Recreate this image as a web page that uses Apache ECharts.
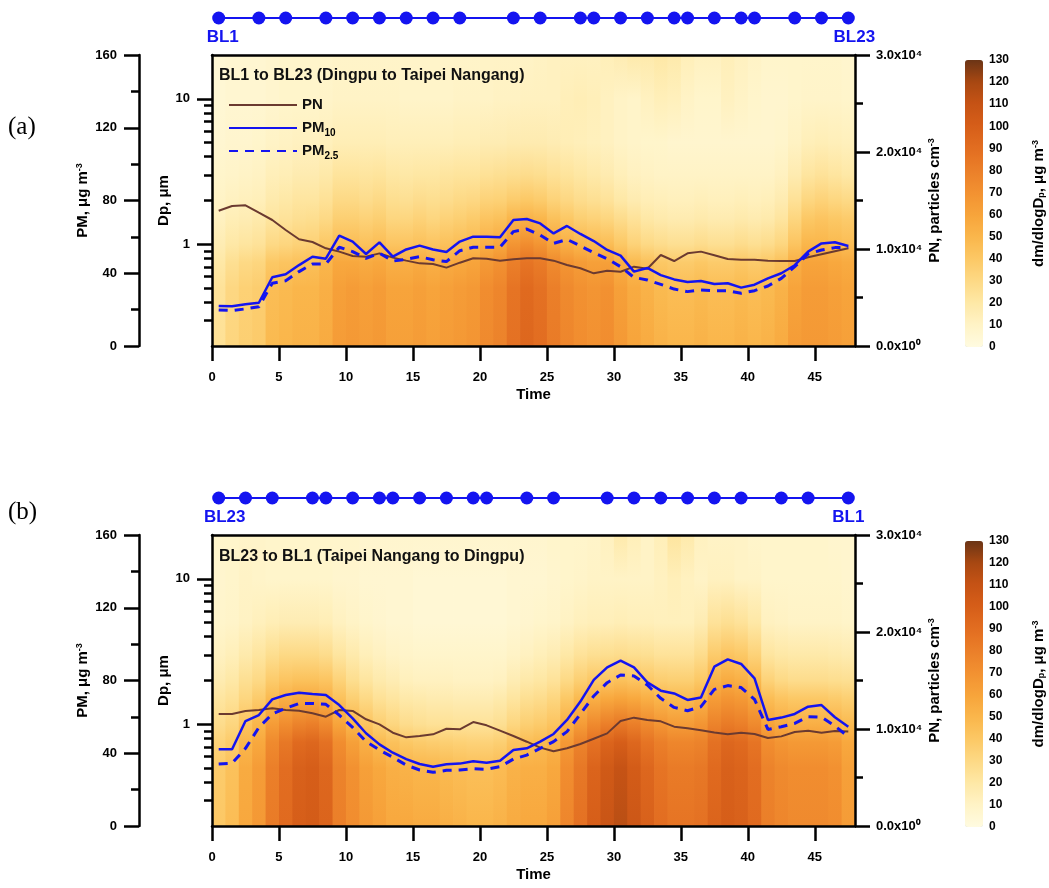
<!DOCTYPE html>
<html>
<head>
<meta charset="utf-8">
<title>BL line: PM, PN and dm/dlogDp</title>
<script src="https://cdn.jsdelivr.net/npm/echarts@6.0.0/dist/echarts.min.js"></script>
<style>
  html, body { margin: 0; padding: 0; background: #fff; }
  #main { width: 1049px; height: 888px; }
</style>
</head>
<body>
<div id="main"></div>
<script>
// ---------- data ----------
// time of each sample (half-hour bins)
const times = [0.5,1.5,2.5,3.5,4.5,5.5,6.5,7.5,8.5,9.5,10.5,11.5,12.5,13.5,14.5,15.5,16.5,17.5,18.5,19.5,
  20.5,21.5,22.5,23.5,24.5,25.5,26.5,27.5,28.5,29.5,30.5,31.5,32.5,33.5,34.5,35.5,36.5,37.5,38.5,39.5,
  40.5,41.5,42.5,43.5,44.5,45.5,46.5,47.5];

// station passing times (BL1 -> BL23 and BL23 -> BL1)
const stationsA = [0.5,3.5,5.5,8.5,10.5,12.5,14.5,16.5,18.5,22.5,24.5,27.5,28.5,30.5,32.5,34.5,35.5,37.5,39.5,40.5,43.5,45.5,47.5];
const stationsB = [0.5,2.5,4.5,7.5,8.5,10.5,12.5,13.5,15.5,17.5,19.5,20.5,23.5,25.5,29.5,31.5,33.5,35.5,37.5,39.5,42.5,44.5,47.5];

// (a) BL1 to BL23
const pnA = [13950,14430,14500,13740,12990,11960,11000,10720,10070,9730,9280,9210,9550,9110,8800,8520,8450,8080,8590,9040,
  9000,8800,8940,9040,9040,8800,8350,8010,7490,7760,7660,8180,7970,9380,8760,9550,9730,9350,8970,8900,
  8900,8800,8770,8770,9140,9450,9760,10070];
const pm10A = [22.0,21.8,22.9,23.8,37.8,39.4,44.5,49.1,48.0,60.7,57.4,50.6,57.0,49.1,53.1,55.2,53.1,51.7,57.4,60.1,
  60.1,59.8,69.3,69.8,67.4,61.9,66.0,61.6,57.7,52.8,49.7,40.9,42.9,39.0,36.6,35.2,35.7,34.1,34.5,32.1,
  33.7,37.2,40.0,44.4,51.9,56.4,57.0,55.0];
const pm25A = [19.8,19.5,20.4,21.6,34.5,35.9,40.9,45.1,45.1,54.3,51.9,48.2,51.0,46.7,47.7,49.1,47.4,46.4,52.4,54.3,
  54.3,54.3,62.9,64.3,61.0,56.4,58.6,55.0,51.3,48.0,43.6,37.7,36.3,33.9,31.3,29.9,30.8,30.4,30.4,29.0,
  30.4,33.0,37.2,43.6,50.6,52.8,54.1,54.3];

// (b) BL23 to BL1
const pnB = [11550,11550,11860,11960,12130,11960,11890,11620,11270,11960,11860,11000,10480,9620,9140,9280,9450,10030,9970,10720,
  10380,9830,9280,8690,8080,7700,8010,8450,9000,9550,10830,11170,10930,10790,10240,10070,9860,9650,9450,9620,
  9480,9070,9240,9690,9830,9620,9800,9730];
const pm10B = [42.2,42.2,57.7,61.0,69.6,72.0,73.3,72.6,72.0,66.5,59.2,51.0,44.9,40.3,36.8,34.1,32.6,33.9,34.3,35.6,
  34.8,35.9,41.8,42.7,46.4,50.6,58.3,68.4,80.3,87.2,90.9,87.2,79.0,74.4,72.9,69.3,70.7,87.6,91.6,89.1,
  81.2,58.3,59.6,61.6,65.6,66.5,59.8,54.6];
const pm25B = [34.1,34.5,42.7,54.2,61.6,64.7,67.4,67.4,66.9,61.0,54.2,46.4,41.8,37.8,33.5,30.8,29.5,30.6,30.8,31.5,
  31.2,32.6,36.8,39.0,42.7,46.4,51.9,61.6,71.5,78.8,83.0,82.5,77.5,70.2,65.2,63.4,65.6,75.1,77.2,76.1,
  69.6,53.1,54.6,56.4,60.1,59.8,55.0,49.1];

// dm/dlogDp (ug m-3) per time column (0-1, 1-2, ... 47-48) at these Dp levels (um)
const dpLevels = [0.2, 0.5, 0.75, 1, 1.5, 2, 3, 5, 10, 20];

const a020 = [25,32,36,38,48,50,52,52,56,64,66,64,66,62,62,64,62,64,66,68,74,78,88,94,90,82,76,72,70,72,66,60,56,52,50,50,52,50,50,52,50,52,56,64,66,66,64,62];
const a050 = [24,31,35,37,46,48,50,50,54,62,64,62,64,60,60,62,60,62,64,66,72,76,86,92,88,80,74,70,68,70,62,56,52,48,46,46,48,46,46,48,46,48,52,60,64,64,62,60];
const a075 = [20,26,30,32,40,42,44,45,50,58,58,56,58,54,54,56,54,56,58,60,66,70,80,86,82,74,68,64,62,62,54,48,44,40,38,38,40,38,38,40,38,40,44,54,60,60,58,56];
const a100 = [16,20,22,24,30,32,34,35,40,46,46,44,46,42,42,44,42,44,46,48,54,58,68,72,68,60,54,50,48,46,40,34,30,28,26,26,28,26,26,28,26,28,32,42,50,50,48,46];
const a150 = [12,15,16,18,22,24,26,27,30,36,36,34,36,32,32,34,32,34,36,38,42,44,50,52,50,44,40,36,34,32,28,24,20,18,17,17,18,17,17,18,17,18,22,32,40,42,40,38];
const a200 = [10,12,13,14,18,20,22,22,25,30,30,28,30,27,26,28,27,28,30,31,34,35,38,40,38,34,31,28,26,24,20,17,15,14,13,13,14,13,13,14,13,14,17,25,32,34,32,30];
const a300 = [8,9,10,11,14,15,17,17,19,23,23,22,23,21,20,21,21,22,23,23,25,26,27,28,27,25,23,21,19,17,14,12,11,10,10,10,10,10,10,10,10,10,12,17,22,24,22,20];
const a500 = [6,7,7,8,10,11,12,12,13,15,15,15,15,14,14,14,14,14,15,15,16,16,17,17,17,16,15,14,13,12,10,9,8,8,7,7,7,7,7,7,7,7,8,11,14,15,14,13];
const a1000 = [5,6,6,6,7,8,8,8,9,10,10,10,10,10,9,9,9,9,10,10,10,11,11,12,12,12,14,15,14,12,10,9,12,14,13,10,8,8,12,10,8,7,7,8,9,9,9,8];
const a2000 = [5,6,6,6,7,8,8,8,8,9,9,9,9,9,9,9,9,9,9,9,10,10,10,10,11,12,12,12,12,14,16,18,18,20,18,14,12,12,14,12,10,8,8,8,8,8,8,7];

const b020 = [40,46,58,66,82,92,100,102,96,80,72,66,62,58,58,56,56,54,52,50,50,52,56,58,58,62,76,88,100,108,114,106,98,90,86,86,88,96,100,98,92,80,76,74,74,74,72,64];
const b050 = [38,44,56,64,80,90,98,100,94,78,70,62,58,54,52,50,50,48,46,45,45,47,52,54,54,58,72,84,96,104,110,102,94,86,82,82,84,92,98,96,90,78,74,72,72,72,70,62];
const b075 = [34,38,50,58,74,84,92,94,88,72,62,54,48,44,40,38,37,36,35,34,34,36,42,46,48,52,66,78,88,96,100,94,86,80,76,76,78,88,94,92,86,72,68,66,66,66,64,58];
const b100 = [28,32,42,50,64,72,78,80,74,60,50,42,36,32,28,26,25,25,24,24,24,26,32,36,38,42,54,64,74,80,84,80,74,68,64,64,68,78,82,80,74,60,56,54,54,54,52,48];
const b150 = [22,25,32,38,48,54,58,58,54,44,36,30,25,22,19,18,17,17,16,16,16,18,22,26,28,32,40,48,54,58,60,58,54,50,48,48,52,64,68,66,60,46,42,40,40,40,38,36];
const b200 = [17,20,26,30,38,42,44,44,42,34,27,22,18,16,13,12,12,12,11,11,11,12,16,19,21,24,30,36,40,42,44,42,40,37,36,36,40,52,56,54,48,34,30,28,28,28,27,26];
const b300 = [12,14,18,22,27,30,30,30,28,22,18,14,12,10,9,8,8,8,8,8,8,8,10,12,14,16,20,24,26,27,28,27,26,24,24,24,28,38,42,40,34,22,20,19,19,19,18,17];
const b500 = [8,9,11,13,15,16,16,16,15,12,10,8,7,6,6,5,5,5,5,5,5,5,6,7,8,9,11,13,14,14,15,14,14,13,13,13,16,24,26,24,20,12,11,10,10,10,10,9];
const b1000 = [7,8,10,9,8,8,8,8,8,7,7,6,6,6,6,5,5,5,5,5,5,5,6,6,6,7,8,9,10,10,10,10,10,12,14,12,10,12,12,10,10,8,8,8,8,8,8,7];
const b2000 = [8,8,9,9,8,8,8,8,8,8,8,7,7,7,7,7,7,7,7,7,7,7,7,7,7,8,8,8,9,12,18,14,10,14,22,18,12,10,10,10,8,8,8,8,8,8,7,7];

// tick labels
const timeTicks = [0, 5, 10, 15, 20, 25, 30, 35, 40, 45];
const dpMajor = [1, 10];
const dpMinor = [0.3, 0.4, 0.5, 0.6, 0.7, 0.8, 0.9, 2, 3, 4, 5, 6, 7, 8, 9];

// colour scale 0..130 (step 10)
const cbColors = ['#fffbe1', '#fff3c6', '#fee8a6', '#fdd985', '#fcc865', '#fab64b', '#f7a43b',
  '#f29131', '#eb7f29', '#e26d21', '#d65e19', '#c65315', '#a84812', '#6b3516'];

// ---------- chart ----------
const FONT = '"Liberation Sans", Arial, Helvetica, sans-serif';
const BLUE = '#1414f0';
const BROWN = '#6b3a30';
const LINE = { color: '#000', width: 2.5 };
const LBL = { color: '#000', fontFamily: FONT, fontWeight: 'bold', fontSize: 13 };
const NAME = { color: '#000', fontFamily: FONT, fontWeight: 'bold', fontSize: 15,
  rich: {
    sup: { fontFamily: FONT, fontWeight: 'bold', fontSize: 9, verticalAlign: 'top', lineHeight: 9, color: '#000' },
    sub: { fontFamily: FONT, fontWeight: 'bold', fontSize: 9, verticalAlign: 'bottom', lineHeight: 9, color: '#000' }
  } };

function colorAt(v) {
  return echarts.color.lerp(Math.max(0, Math.min(1, v / 130)), cbColors);
}

function renderColumn(params, api) {
  const t = api.value(0);
  const tl = api.coord([t - 0.5, 20]);
  const br = api.coord([t + 0.5, 0.2]);
  const h = br[1] - tl[1];
  const stops = [];
  for (let k = dpLevels.length - 1; k >= 0; k--) {
    const y = api.coord([t, dpLevels[k]])[1];
    stops.push({ offset: Math.max(0, Math.min(1, (y - tl[1]) / h)), color: colorAt(api.value(k + 1)) });
  }
  return {
    type: 'rect',
    shape: { x: tl[0], y: tl[1], width: br[0] - tl[0] + 0.8, height: h },
    style: { fill: new echarts.graphic.LinearGradient(0, 0, 0, 1, stops) }
  };
}

function pairs(ys) {
  return times.map((t, i) => [t, ys[i]]);
}

const grid = [], xAxis = [], yAxis = [], series = [], visualMap = [];

function addPanel(top, cbTop, cbH, levels, pn, pm10, pm25, stations, firstLbl, lastLbl, firstOff, lastOff) {
  const g = grid.length, xi = xAxis.length, yi = yAxis.length, si = series.length;
  grid.push({ left: 212, top: top, width: 643, height: 291, outerBoundsMode: 'none' });
  grid.push({ left: 212, top: top - 47, width: 643, height: 20, outerBoundsMode: 'none' });
  grid.push({ left: 965, top: cbTop, width: 18, height: cbH, outerBoundsMode: 'none' });

  xAxis.push({
    type: 'value', gridIndex: g, min: 0, max: 48, position: 'bottom', z: 10,
    axisLine: { show: true, onZero: false, lineStyle: LINE },
    axisTick: { show: true, length: 15, customValues: timeTicks, lineStyle: LINE },
    axisLabel: Object.assign({ customValues: timeTicks, margin: 25 }, LBL),
    splitLine: { show: false },
    name: 'Time', nameLocation: 'middle', nameGap: 41, nameMoveOverlap: false, nameTextStyle: NAME
  });
  xAxis.push({
    type: 'value', gridIndex: g, min: 0, max: 48, position: 'top', z: 10,
    axisLine: { show: true, onZero: false, lineStyle: LINE },
    axisTick: { show: false }, axisLabel: { show: false }, splitLine: { show: false }
  });
  xAxis.push({ type: 'value', gridIndex: g + 1, min: 0, max: 48, show: false });
  xAxis.push({ type: 'value', gridIndex: g + 2, min: 0, max: 1, show: false });

  // yi: PM
  yAxis.push({
    type: 'value', gridIndex: g, min: 0, max: 160, interval: 40, position: 'left', offset: 73, z: 10,
    axisLine: { show: true, onZero: false, lineStyle: LINE },
    axisTick: { show: true, length: 15, lineStyle: LINE },
    minorTick: { show: true, splitNumber: 2, length: 8, lineStyle: LINE },
    axisLabel: Object.assign({ margin: 22 }, LBL),
    splitLine: { show: false }, minorSplitLine: { show: false },
    name: 'PM, \u03bcg m{sup|-3}', nameLocation: 'middle', nameRotate: 90, nameGap: 49, nameMoveOverlap: false, nameTextStyle: NAME
  });
  // yi+1: Dp (log) major
  yAxis.push({
    type: 'log', logBase: 10, gridIndex: g, min: 0.2, max: 20, position: 'left', z: 10,
    axisLine: { show: true, onZero: false, lineStyle: LINE },
    axisTick: { show: true, length: 15, customValues: dpMajor, lineStyle: LINE },
    axisLabel: Object.assign({ customValues: dpMajor, margin: 22, formatter: v => String(v) }, LBL),
    splitLine: { show: false },
    name: 'Dp, \u03bcm', nameLocation: 'middle', nameRotate: 90, nameGap: 41, nameMoveOverlap: false, nameTextStyle: NAME
  });
  // yi+2: Dp minor ticks
  yAxis.push({
    type: 'log', logBase: 10, gridIndex: g, min: 0.2, max: 20, position: 'left', z: 10,
    axisLine: { show: false },
    axisTick: { show: true, length: 8, customValues: dpMinor, lineStyle: LINE },
    axisLabel: { show: false }, splitLine: { show: false }
  });
  // yi+3: PN
  yAxis.push({
    type: 'value', gridIndex: g, min: 0, max: 30000, interval: 10000, position: 'right', z: 10,
    axisLine: { show: true, onZero: false, lineStyle: LINE },
    axisTick: { show: true, length: 15, lineStyle: LINE },
    minorTick: { show: true, splitNumber: 2, length: 8, lineStyle: LINE },
    axisLabel: Object.assign({ margin: 21, formatter: v => (v / 10000).toFixed(1) + 'x10' + (v === 0 ? '\u2070' : '\u2074') }, LBL),
    splitLine: { show: false }, minorSplitLine: { show: false },
    name: 'PN, particles cm{sup|-3}', nameLocation: 'middle', nameRotate: 90, nameGap: 72, nameMoveOverlap: false, nameTextStyle: NAME
  });
  // yi+4: station strip
  yAxis.push({ type: 'value', gridIndex: g + 1, min: -1, max: 1, show: false });
  // yi+5: colour bar labels
  yAxis.push({
    type: 'value', gridIndex: g + 2, min: 0, max: 130, interval: 10, position: 'right',
    axisLine: { show: false }, axisTick: { show: false }, splitLine: { show: false },
    axisLabel: Object.assign({}, LBL, { margin: 6, fontSize: 12 }),
    name: 'dm/dlogD{sub|p}, \u03bcg m{sup|-3}', nameLocation: 'middle', nameRotate: 90, nameGap: 48, nameMoveOverlap: false, nameTextStyle: NAME
  });

  const cols = times.map((t, i) => [t].concat(levels.map(row => row[i])));
  series.push({
    type: 'custom', coordinateSystem: 'cartesian2d', xAxisIndex: xi, yAxisIndex: yi + 1,
    renderItem: renderColumn, data: cols, encode: { x: 0, y: 1 }, clip: true, silent: true, z: 1
  });
  series.push({
    type: 'line', name: 'PN', xAxisIndex: xi, yAxisIndex: yi + 3, data: pairs(pn), symbol: 'none', z: 3,
    lineStyle: { color: BROWN, width: 2 }, itemStyle: { color: BROWN }
  });
  series.push({
    type: 'line', name: 'PM10', xAxisIndex: xi, yAxisIndex: yi, data: pairs(pm10), symbol: 'none', z: 3,
    lineStyle: { color: BLUE, width: 2.5 }, itemStyle: { color: BLUE }
  });
  series.push({
    type: 'line', name: 'PM2.5', xAxisIndex: xi, yAxisIndex: yi, data: pairs(pm25), symbol: 'none', z: 3,
    lineStyle: { color: BLUE, width: 3, type: [9, 7] }, itemStyle: { color: BLUE }
  });
  const stLabel = (txt, off) => ({ show: true, position: 'bottom', distance: 4, offset: off, formatter: txt,
    color: BLUE, fontFamily: FONT, fontWeight: 'bold', fontSize: 17 });
  series.push({
    type: 'line', name: 'stations', xAxisIndex: xi + 2, yAxisIndex: yi + 4, symbol: 'circle', symbolSize: 13,
    lineStyle: { color: BLUE, width: 2 }, itemStyle: { color: BLUE }, z: 3,
    data: stations.map((t, i) => {
      const item = { value: [t, 0] };
      if (i === 0) item.label = stLabel(firstLbl, firstOff);
      if (i === stations.length - 1) item.label = stLabel(lastLbl, lastOff);
      return item;
    })
  });

  visualMap.push({
    type: 'continuous', min: 0, max: 130, seriesIndex: si, dimension: 1,
    left: 965, top: cbTop, itemWidth: 18, itemHeight: cbH, padding: 0,
    calculable: false, hoverLink: false, text: null,
    inRange: { color: cbColors }
  });
}

addPanel(55, 60, 287, [a020, a050, a075, a100, a150, a200, a300, a500, a1000, a2000],
  pnA, pm10A, pm25A, stationsA, 'BL1', 'BL23', [4, 0], [6, 0]);
addPanel(535, 541, 286, [b020, b050, b075, b100, b150, b200, b300, b500, b1000, b2000],
  pnB, pm10B, pm25B, stationsB, 'BL23', 'BL1', [6, 0], [0, 0]);

const subRich = { fontFamily: FONT, fontWeight: 'bold', fontSize: 10, verticalAlign: 'bottom', lineHeight: 10, color: '#000' };
const noSymbol = { opacity: 0 };

const option = {
  animation: false,
  backgroundColor: '#fff',
  title: [
    { text: 'BL1 to BL23 (Dingpu to Taipei Nangang)', left: 219, top: 68, padding: 0,
      textStyle: { fontFamily: FONT, fontSize: 16, fontWeight: 'bold', color: '#111' } },
    { text: 'BL23 to BL1 (Taipei Nangang to Dingpu)', left: 219, top: 549, padding: 0,
      textStyle: { fontFamily: FONT, fontSize: 16, fontWeight: 'bold', color: '#111' } },
    { text: '(a)', left: 8, top: 115, padding: 0,
      textStyle: { fontFamily: '"Liberation Serif", "Times New Roman", serif', fontSize: 25, fontWeight: 'normal', color: '#000' } },
    { text: '(b)', left: 8, top: 500, padding: 0,
      textStyle: { fontFamily: '"Liberation Serif", "Times New Roman", serif', fontSize: 25, fontWeight: 'normal', color: '#000' } }
  ],
  legend: {
    data: [
      { name: 'PN', itemStyle: noSymbol },
      { name: 'PM10', itemStyle: noSymbol },
      { name: 'PM2.5', itemStyle: noSymbol }
    ],
    orient: 'vertical', left: 228, top: 95, padding: 0,
    itemWidth: 68, itemHeight: 14, itemGap: 3, selectedMode: false,
    formatter: name => name === 'PM10' ? 'PM{sub|10}' : name === 'PM2.5' ? 'PM{sub|2.5}' : name,
    textStyle: { fontFamily: FONT, fontSize: 15, fontWeight: 'bold', color: '#111', lineHeight: 20, rich: { sub: subRich } }
  },
  grid: grid,
  xAxis: xAxis,
  yAxis: yAxis,
  visualMap: visualMap,
  series: series
};

const myChart = echarts.init(document.getElementById('main'));
myChart.setOption(option);
</script>
</body>
</html>
